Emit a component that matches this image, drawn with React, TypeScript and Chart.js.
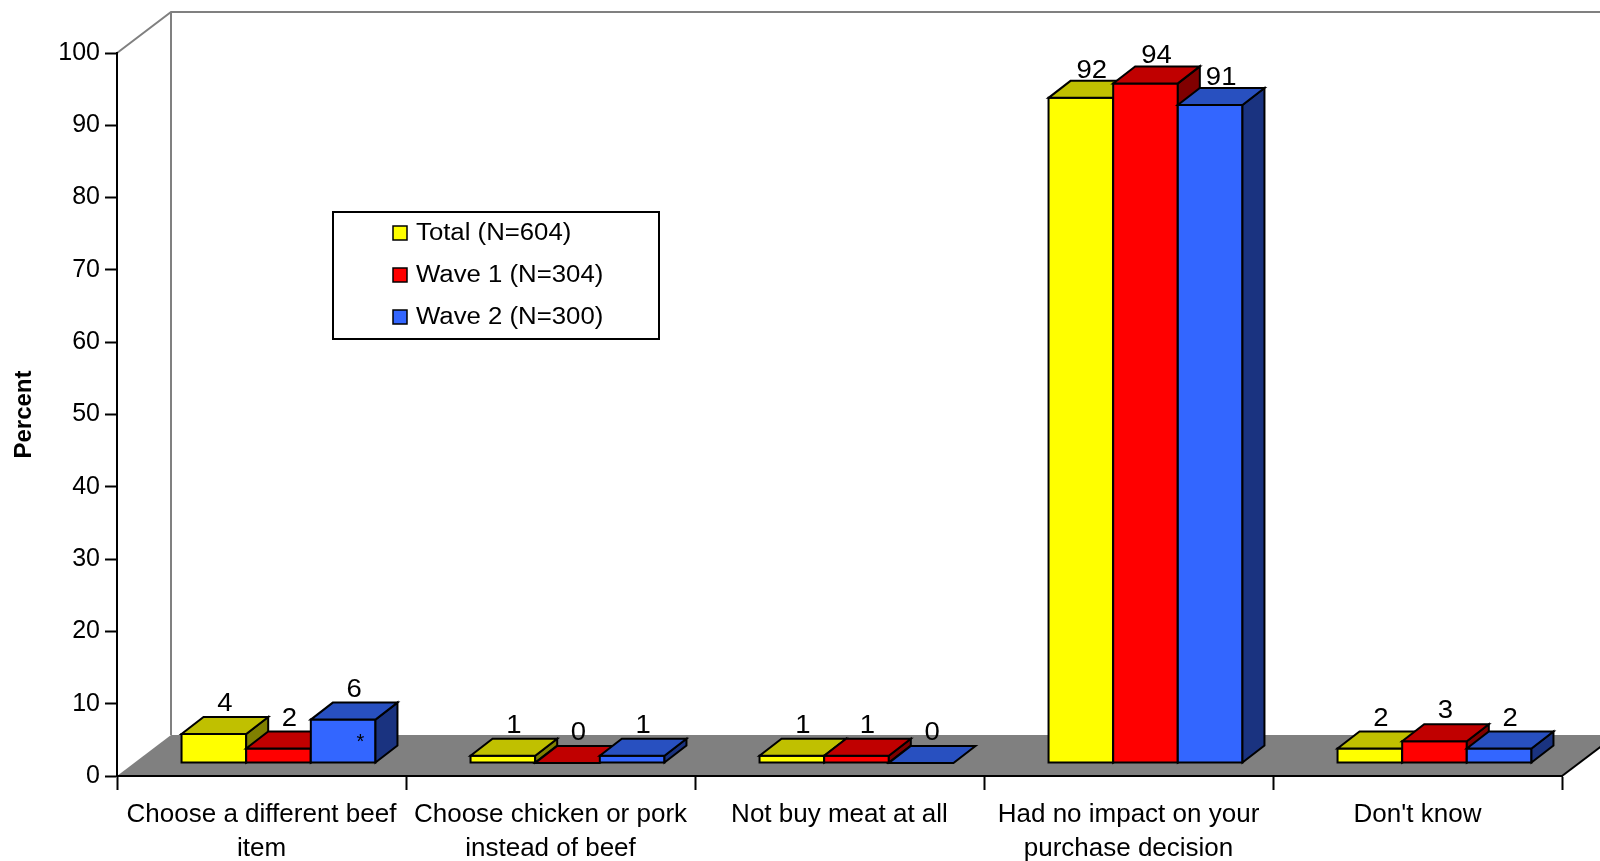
import React, { useEffect, useRef } from "react";
import { Chart, registerables } from "chart.js";

Chart.register(...registerables);

// ---------- data ----------
const categories: string[][] = [
  ["Choose a different beef", "item"],
  ["Choose chicken or pork", "instead of beef"],
  ["Not buy meat at all"],
  ["Had no impact on your", "purchase decision"],
  ["Don't know"],
];
const seriesLabels = ["Total (N=604)", "Wave 1 (N=304)", "Wave 2 (N=300)"];
const totalValues = [4, 1, 1, 92, 2];
const wave1Values = [2, 0, 1, 94, 3];
const wave2Values = [6, 1, 0, 91, 2];
const yMin = 0;
const yMax = 100;
const yStep = 10;
const yTitle = "Percent";
const annotations = [{ category: 0, series: 2, text: "*" }];

// ---------- styles ----------
const FONT = "'Liberation Sans', Arial, Helvetica, sans-serif";
const faceColors = [
  { front: "#FFFF00", top: "#C0C000", side: "#808000" },
  { front: "#FF0000", top: "#C00000", side: "#800000" },
  { front: "#3366FF", top: "#2850C0", side: "#1A3380" },
];
const WALL_DX = 54;
const WALL_DY = 41;
const BAR_SHIFT_X = 17;
const BAR_SHIFT_Y = 13;
const BAR_DX = 22;
const BAR_DY = 17;
const TEXT_STRETCH = 1.1;

function stretchedText(ctx: any, text: string, x: number, y: number, sx: number) {
  ctx.save();
  ctx.translate(x, y);
  ctx.scale(sx, 1);
  ctx.fillText(text, 0, 0);
  ctx.restore();
}

const threeD = {
  id: "threeD",
  beforeDraw(chart: any) {
    const { ctx, chartArea } = chart;
    const { left, right, top, bottom } = chartArea;
    ctx.save();
    ctx.fillStyle = "#ffffff";
    ctx.fillRect(0, 0, chart.width, chart.height);
    // floor
    ctx.fillStyle = "#808080";
    ctx.beginPath();
    ctx.moveTo(left, bottom);
    ctx.lineTo(right, bottom);
    ctx.lineTo(right + WALL_DX, bottom - WALL_DY);
    ctx.lineTo(left + WALL_DX, bottom - WALL_DY);
    ctx.closePath();
    ctx.fill();
    // right floor edge
    ctx.strokeStyle = "#000000";
    ctx.lineWidth = 2;
    ctx.beginPath();
    ctx.moveTo(right, bottom);
    ctx.lineTo(right + WALL_DX, bottom - WALL_DY);
    ctx.stroke();
    // walls
    ctx.strokeStyle = "#808080";
    ctx.lineWidth = 2;
    ctx.beginPath();
    ctx.moveTo(left, top);
    ctx.lineTo(left + WALL_DX, top - WALL_DY);
    ctx.lineTo(right + WALL_DX, top - WALL_DY);
    ctx.moveTo(left + WALL_DX, top - WALL_DY);
    ctx.lineTo(left + WALL_DX, bottom - WALL_DY);
    ctx.stroke();
    ctx.restore();
  },
  afterDatasetsDraw(chart: any) {
    const { ctx } = chart;
    const nCat = categories.length;
    const nSer = chart.data.datasets.length;
    ctx.save();
    ctx.lineWidth = 2;
    ctx.strokeStyle = "#000000";
    ctx.lineJoin = "miter";
    const labelQueue: any[] = [];
    for (let i = 0; i < nCat; i++) {
      for (let s = 0; s < nSer; s++) {
        const meta = chart.getDatasetMeta(s);
        const bar = meta.data[i];
        const p = bar.getProps(["x", "y", "base", "width"], true);
        const l = p.x - p.width / 2 + BAR_SHIFT_X;
        const r = p.x + p.width / 2 + BAR_SHIFT_X;
        const t = p.y - BAR_SHIFT_Y;
        const b = p.base - BAR_SHIFT_Y;
        const c = faceColors[s];
        const h = b - t;
        if (h > 0.5) {
          ctx.fillStyle = c.front;
          ctx.beginPath();
          ctx.rect(l, t, r - l, h);
          ctx.fill();
          ctx.stroke();
          ctx.fillStyle = c.side;
          ctx.beginPath();
          ctx.moveTo(r, t);
          ctx.lineTo(r + BAR_DX, t - BAR_DY);
          ctx.lineTo(r + BAR_DX, b - BAR_DY);
          ctx.lineTo(r, b);
          ctx.closePath();
          ctx.fill();
          ctx.stroke();
        }
        ctx.fillStyle = c.top;
        ctx.beginPath();
        ctx.moveTo(l, t);
        ctx.lineTo(r, t);
        ctx.lineTo(r + BAR_DX, t - BAR_DY);
        ctx.lineTo(l + BAR_DX, t - BAR_DY);
        ctx.closePath();
        ctx.fill();
        ctx.stroke();
        const v = chart.data.datasets[s].data[i];
        const gap = v > 50 ? 3 : 6;
        labelQueue.push({ x: (l + r) / 2 + BAR_DX / 2, y: t - BAR_DY - gap, text: String(v) });
        annotations
          .filter((a) => a.category === i && a.series === s)
          .forEach((a) => {
            labelQueue.push({ x: r - 15, y: b - 15, text: a.text, small: true });
          });
      }
    }
    ctx.fillStyle = "#000000";
    ctx.textAlign = "center";
    ctx.textBaseline = "alphabetic";
    labelQueue.forEach((q) => {
      ctx.font = q.small ? `20px ${FONT}` : `25px ${FONT}`;
      stretchedText(ctx, q.text, q.x, q.y, q.small ? 1 : TEXT_STRETCH);
    });
    ctx.restore();
  },
  afterDraw(chart: any) {
    const { ctx } = chart;
    ctx.save();
    const bx = 333, by = 212, bw = 326, bh = 127;
    ctx.fillStyle = "#ffffff";
    ctx.fillRect(bx, by, bw, bh);
    ctx.strokeStyle = "#000000";
    ctx.lineWidth = 2;
    ctx.strokeRect(bx, by, bw, bh);
    ctx.font = `23px ${FONT}`;
    ctx.textAlign = "left";
    ctx.textBaseline = "middle";
    seriesLabels.forEach((lab, k) => {
      const cy = 233 + k * 42;
      ctx.fillStyle = faceColors[k].front;
      ctx.fillRect(393, cy - 7, 14, 14);
      ctx.lineWidth = 1.5;
      ctx.strokeRect(393, cy - 7, 14, 14);
      ctx.fillStyle = "#000000";
      stretchedText(ctx, lab, 416, cy + 1, 1.12);
    });
    ctx.restore();
  },
};

export default function App() {
  const ref = useRef<HTMLCanvasElement | null>(null);
  useEffect(() => {
    if (!ref.current) return;
    Chart.defaults.font.family = FONT;
    Chart.defaults.color = "#000000";
    const chart = new Chart(ref.current, {
      type: "bar",
      data: {
        labels: categories,
        datasets: [totalValues, wave1Values, wave2Values].map((vals, k) => ({
          label: seriesLabels[k],
          data: vals,
          backgroundColor: "rgba(0,0,0,0)",
          borderWidth: 0,
          categoryPercentage: 0.671,
          barPercentage: 1.0,
        })),
      },
      options: {
        animation: false,
        responsive: false,
        devicePixelRatio: 1,
        layout: { padding: { left: 0, right: 38, top: 53, bottom: 0 } },
        plugins: { legend: { display: false }, tooltip: { enabled: false } },
        scales: {
          x: {
            afterFit: (scale: any) => {
              scale.height = 85;
            },
            grid: {
              drawOnChartArea: false,
              offset: true,
              tickLength: 14,
              tickColor: "#000000",
              tickWidth: 2,
            },
            border: { color: "#000000", width: 2 },
            ticks: {
              color: "#000000",
              font: { size: 26, family: FONT, lineHeight: 1.31 },
              padding: 8,
              maxRotation: 0,
              autoSkip: false,
            },
          },
          y: {
            min: yMin,
            max: yMax,
            afterFit: (scale: any) => {
              scale.width = 117;
            },
            grid: {
              drawOnChartArea: false,
              tickLength: 12,
              tickColor: "#000000",
              tickWidth: 2,
            },
            border: { color: "#000000", width: 2 },
            ticks: {
              stepSize: yStep,
              color: "#000000",
              font: { size: 25, family: FONT },
              padding: 5,
            },
            title: {
              display: true,
              text: yTitle,
              color: "#000000",
              font: { size: 24, weight: "bold", family: FONT },
              padding: { top: 10, bottom: 0 },
            },
          },
        },
      },
      plugins: [threeD],
    });
    return () => chart.destroy();
  }, []);
  return (
    <div style={{ position: "fixed", left: 0, top: 0, width: 1600, height: 861, background: "#fff" }}>
      <canvas ref={ref} width={1600} height={861} style={{ display: "block", width: 1600, height: 861 }} />
    </div>
  );
}
